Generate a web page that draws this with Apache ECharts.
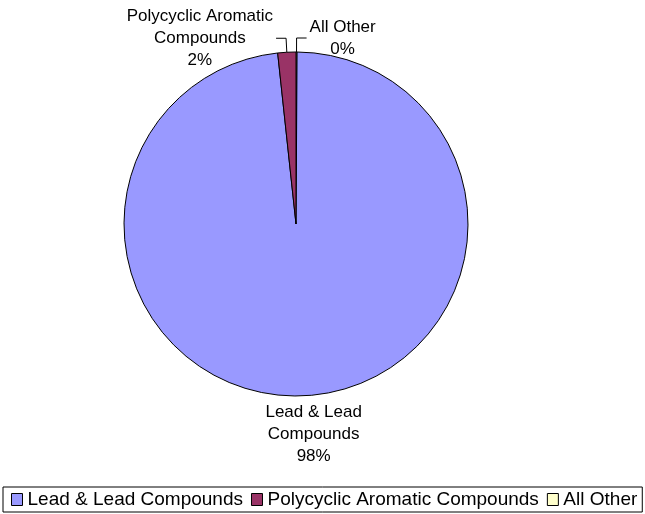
<!DOCTYPE html>
<html>
<head>
<meta charset="utf-8">
<script src="https://cdn.jsdelivr.net/npm/echarts@6/dist/echarts.min.js"></script>
<style>
  html, body { margin: 0; padding: 0; background: #fff; }
  #chart { width: 645px; height: 514px; }
</style>
</head>
<body>
<div id="chart"></div>
<script>
// categories in legend order
const categories = ['Lead & Lead Compounds', 'Polycyclic Aromatic Compounds', 'All Other'];
// label text as wrapped in the picture
const labelNames = ['Lead & Lead\nCompounds', 'Polycyclic Aromatic\nCompounds', 'All Other'];
// percent share of releases
const shares = [98.2, 1.7, 0.1];
const colors = ['#9999FF', '#993366', '#FFFFCC'];
// order the slices are drawn clockwise from 12 o'clock
const sliceOrder = [2, 0, 1];

const FONT = 'Liberation Sans, Arial, sans-serif';
const chart = echarts.init(document.getElementById('chart'));

const pieData = sliceOrder.map(function (i) {
    const item = {
        name: categories[i],
        value: shares[i],
        itemStyle: { color: colors[i] }
    };
    if (i === 0) {
        // big slice: label sits under the pie, no leader line
        item.labelLine = { show: false, length: 0, length2: 0 };
    }
    return item;
});

const option = {
    backgroundColor: '#fff',
    animation: false,
    legend: {
        data: categories,
        left: 3,
        bottom: 2,
        orient: 'horizontal',
        icon: 'rect',
        itemWidth: 11,
        itemHeight: 12,
        itemGap: 8,
        padding: [3, 5, 3, 8],
        borderColor: '#000',
        borderWidth: 1,
        itemStyle: { borderColor: '#000', borderWidth: 1 },
        textStyle: { fontFamily: FONT, fontSize: 19, color: '#000' }
    },
    series: [{
        type: 'pie',
        center: [296, 224],
        radius: 172,
        startAngle: 90,
        clockwise: true,
        avoidLabelOverlap: false,
        percentPrecision: 0,
        itemStyle: { borderColor: '#000', borderWidth: 1 },
        emphasis: { disabled: true },
        label: {
            show: true,
            position: 'outside',
            distanceToLabelLine: 3,
            color: '#000',
            fontFamily: FONT,
            fontSize: 17,
            formatter: function (p) {
                const idx = categories.indexOf(p.name);
                const lines = labelNames[idx].split('\n').concat([p.percent + '%']);
                return lines.map(function (s) { return '{c|' + s + '}'; }).join('\n');
            },
            rich: {
                c: { align: 'center', fontFamily: FONT, fontSize: 17, lineHeight: 22, color: '#000' }
            }
        },
        labelLine: {
            show: true,
            length: 14,
            length2: 10,
            lineStyle: { color: '#000', width: 1 }
        },
        labelLayout: function (p) {
            if (p.dataIndex !== sliceOrder.indexOf(0)) return;
            return {
                x: p.labelRect.x + 6,
                y: p.rect.y + p.rect.height + 5,
                align: 'center',
                verticalAlign: 'top'
            };
        },
        data: pieData
    }]
};

chart.setOption(option);
</script>
</body>
</html>
